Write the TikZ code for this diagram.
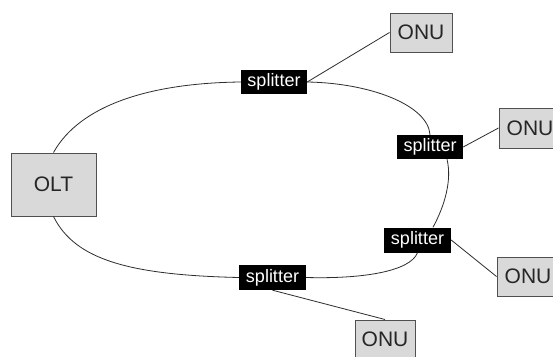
\documentclass[tikz,border=0pt]{standalone}
\usepackage{fontspec}
\setmainfont{Liberation Sans}
\usetikzlibrary{calc}
\definecolor{boxfill}{RGB}{217,217,217}
\definecolor{boxline}{RGB}{80,80,80}
\definecolor{fiber}{RGB}{45,45,45}
\begin{document}
\begin{tikzpicture}[x=1pt,y=-1pt,
  unit/.style={draw=boxline,fill=boxfill,line width=1pt,inner sep=0pt,
    text=black!85,font=\fontsize{21}{25}\selectfont},
  onu/.style={unit,minimum width=62pt,minimum height=39pt},
  splitbox/.style={fill=black,inner sep=0pt,minimum width=66pt,minimum height=24pt,
    text=white,font=\fontsize{18}{21}\selectfont},
  fiberline/.style={draw=fiber,line width=0.8pt}]
\useasboundingbox (0,0) rectangle (553,356);
\clip (0,0) rectangle (553,356);
\fill[white] (0,0) rectangle (553,356);

% central office and splitters
\node[unit,minimum width=85pt,minimum height=63pt] (olt) at (53.5,184.5) {OLT};
\node[splitbox] (s1) at (274,82) {splitter};
\node[splitbox] (s2) at (430,147) {splitter};
\node[splitbox,minimum width=67pt,minimum height=25pt] (s3) at (417.5,240) {splitter};
\node[splitbox,minimum width=67pt,minimum height=25pt] (s4) at (272.5,277.5) {splitter};

% subscriber units
\node[onu] (u1) at (421,32.5) {ONU};
\node[onu,minimum height=40pt] (u2) at (530,128) {ONU};
\node[onu] (u3) at (528,276.5) {ONU};
\node[onu,minimum width=60pt] (u4) at (385,339.5) {ONU};

% fibre ring
\draw[fiberline] (olt.north) .. controls (80,105) and (150,83) .. (s1.west);
\draw[fiberline] (s1.east) .. controls (370,83) and (428,105) .. (s2.north);
\draw[fiberline] ($(s2.south)+(17,0)$) .. controls (452,180) and (445,205) .. ($(s3.north)+(15.5,0)$);
\draw[fiberline] (s3.south) .. controls (410,272) and (360,279) .. (s4.east);
\draw[fiberline] (s4.west) .. controls (130,275) and (75,260) .. (olt.south);

% drop lines
\draw[fiberline] (s1.east) -- (u1.west);
\draw[fiberline] (s2.east) -- (u2.west);
\draw[fiberline] (s3.east) -- (u3.west);
\draw[fiberline] (s4.south) -- (u4.north);
\end{tikzpicture}
\end{document}
